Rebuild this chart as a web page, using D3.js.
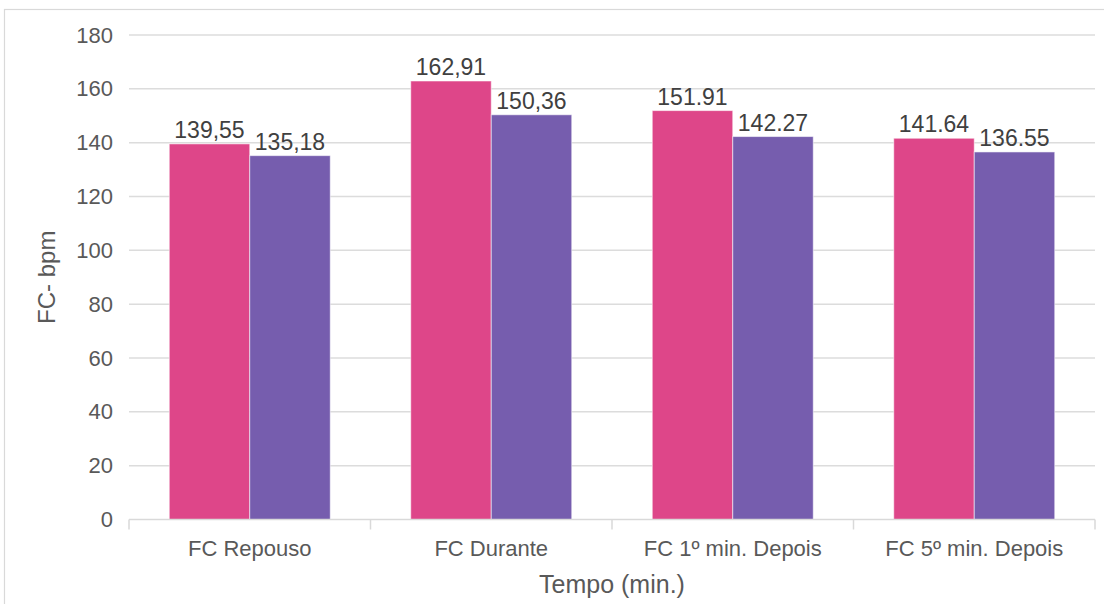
<!DOCTYPE html>
<html>
<head>
<meta charset="utf-8">
<script src="https://cdn.jsdelivr.net/npm/d3@7/dist/d3.min.js"></script>
<style>
  html, body { margin: 0; padding: 0; background: #fff; }
  svg { display: block; font-family: "Liberation Sans", Arial, sans-serif; }
</style>
</head>
<body>
<svg id="chart" width="1104" height="604"></svg>
<script>
// Heart rate (bpm) per moment, two groups
const categories = ["FC Repouso", "FC Durante", "FC 1º min. Depois", "FC 5º min. Depois"];
const seriesA = [139.55, 162.91, 151.91, 141.64];
const seriesB = [135.18, 150.36, 142.27, 136.55];
const labelsA = ["139,55", "162,91", "151.91", "141.64"];
const labelsB = ["135,18", "150,36", "142.27", "136.55"];
const yTicks = [0, 20, 40, 60, 80, 100, 120, 140, 160, 180];
const seriesColors = ["#de4689", "#765dae"];

const svg = d3.select("#chart");
const W = 1104, H = 604;
const plot = { left: 129, right: 1095, top: 35, bottom: 519.5 };

// outer frame
svg.append("rect")
  .attr("x", 4.5).attr("y", 9.5)
  .attr("width", W + 20).attr("height", H + 20)
  .attr("fill", "none").attr("stroke", "#d9d9d9").attr("stroke-width", 1.2);

const x = d3.scaleBand().domain(categories).range([plot.left, plot.right]).padding(0);
const step = x.bandwidth();
const xs = d3.scaleBand().domain([0, 1]).range([step / 6, step * 5 / 6]).padding(0);
const y = d3.scaleLinear().domain([0, 180]).range([plot.bottom, plot.top]);

// horizontal gridlines
svg.append("g").selectAll("line").data(yTicks.filter(d => d > 0)).join("line")
  .attr("x1", plot.left).attr("x2", plot.right)
  .attr("y1", d => y(d)).attr("y2", d => y(d))
  .attr("stroke", "#dcdcdc").attr("stroke-width", 1.5);

// y axis tick labels
const yAxis = d3.axisLeft(y).tickValues(yTicks).tickSize(0).tickPadding(16);
const gy = svg.append("g").attr("transform", `translate(${plot.left},0)`).call(yAxis);
gy.select(".domain").remove();
gy.selectAll("text").attr("fill", "#595959").style("font-size", "22px")
  .attr("font-family", "Liberation Sans, Arial, sans-serif");

// bars
const data = categories.map((c, i) => ({ c, vals: [seriesA[i], seriesB[i]], labels: [labelsA[i], labelsB[i]] }));
const groups = svg.append("g").selectAll("g").data(data).join("g")
  .attr("transform", d => `translate(${x(d.c)},0)`);

groups.selectAll("rect").data(d => d.vals.map((v, k) => ({ v, k }))).join("rect")
  .attr("x", d => xs(d.k)).attr("width", xs.bandwidth())
  .attr("y", d => y(d.v)).attr("height", d => y(0) - y(d.v))
  .attr("fill", d => seriesColors[d.k])
  .attr("stroke", "rgba(255,255,255,0.55)").attr("stroke-width", 1);

groups.selectAll("text").data(d => d.vals.map((v, k) => ({ v, k, t: d.labels[k] }))).join("text")
  .attr("x", d => xs(d.k) + xs.bandwidth() / 2)
  .attr("y", d => y(d.v) - 6)
  .attr("text-anchor", "middle")
  .attr("fill", "#404040").style("font-size", "23px")
  .text(d => d.t);

// x axis
const xAxis = d3.axisBottom(x).tickSize(0).tickPadding(0);
const gx = svg.append("g").attr("transform", `translate(0,${plot.bottom})`).call(xAxis);
gx.select(".domain").remove();
gx.selectAll(".tick line").remove();
gx.selectAll("text").attr("fill", "#595959").style("font-size", "22px")
  .attr("font-family", "Liberation Sans, Arial, sans-serif")
  .attr("y", 36).attr("dy", 0);

svg.append("line")
  .attr("x1", plot.left).attr("x2", plot.right)
  .attr("y1", plot.bottom).attr("y2", plot.bottom)
  .attr("stroke", "#d9d9d9").attr("stroke-width", 1.5);

const boundaries = categories.map(c => x(c)).concat([plot.right]);
svg.append("g").selectAll("line").data(boundaries).join("line")
  .attr("x1", d => d).attr("x2", d => d)
  .attr("y1", plot.bottom).attr("y2", plot.bottom + 10)
  .attr("stroke", "#d9d9d9").attr("stroke-width", 1.5);

// axis titles
svg.append("text")
  .attr("x", (plot.left + plot.right) / 2).attr("y", 593)
  .attr("text-anchor", "middle").attr("fill", "#595959")
  .style("font-size", "25px").text("Tempo (min.)");

svg.append("text")
  .attr("transform", `translate(55,${(plot.top + plot.bottom) / 2}) rotate(-90)`)
  .attr("text-anchor", "middle").attr("fill", "#595959")
  .style("font-size", "24px").text("FC- bpm");
</script>
</body>
</html>
